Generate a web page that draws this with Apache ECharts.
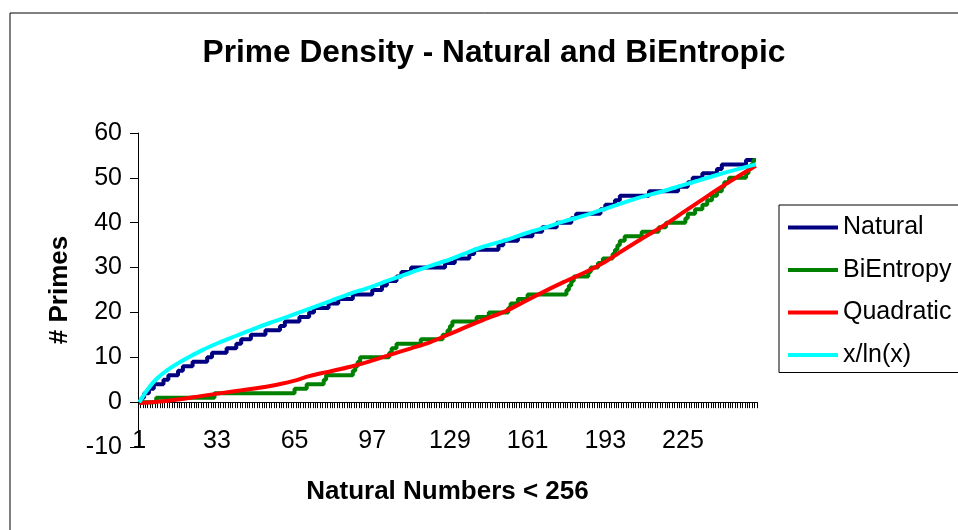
<!DOCTYPE html>
<html>
<head>
<meta charset="utf-8">
<script src="https://cdn.jsdelivr.net/npm/echarts@6/dist/echarts.min.js"></script>
<style>
  html, body { margin: 0; padding: 0; background: #fff; }
  #chart { width: 958px; height: 530px; }
</style>
</head>
<body>
<div id="chart"></div>
<script>
  // natural numbers 1..255 on the category axis
  var categories = Array.from({ length: 255 }, function (_, i) { return String(i + 1); });

  // [n, count] - the count changes at n (step lines)
  var natural = [[1,0],[2,1],[3,2],[5,3],[7,4],[11,5],[13,6],[17,7],[19,8],[23,9],[29,10],[31,11],[37,12],[41,13],[43,14],[47,15],[53,16],[59,17],[61,18],[67,19],[71,20],[73,21],[79,22],[83,23],[89,24],[97,25],[101,26],[103,27],[107,28],[109,29],[113,30],[127,31],[131,32],[137,33],[139,34],[149,35],[151,36],[157,37],[163,38],[167,39],[173,40],[179,41],[181,42],[191,43],[193,44],[197,45],[199,46],[211,47],[223,48],[227,49],[229,50],[233,51],[239,52],[241,53],[251,54],[255,54]];

  var biEntropy = [[1,0],[8,1],[32,2],[65,3],[70,4],[77,5],[78,6],[89,7],[90,8],[91,9],[92,10],[104,11],[105,12],[107,13],[117,14],[126,15],[128,16],[129,17],[130,18],[140,19],[145,20],[153,21],[154,22],[157,23],[161,24],[177,25],[178,26],[179,27],[180,28],[186,29],[187,30],[190,31],[192,32],[196,33],[197,34],[198,35],[199,36],[201,37],[208,38],[215,39],[218,40],[226,41],[227,42],[230,43],[233,44],[235,45],[237,46],[239,47],[241,48],[242,49],[244,50],[251,51],[252,52],[253,53],[254,54],[255,54]];

  // smooth curves
  var quadratic = [[1,-0.2],[13,0.3],[27,1.4],[41,2.5],[55,3.6],[65,4.8],[71,5.8],[80,6.9],[88,7.9],[96,9.1],[104,10.5],[113,12.0],[121,13.4],[129,15.2],[135,16.6],[143,18.4],[152,20.3],[160,22.5],[168,24.7],[176,26.8],[185,29.0],[193,31.3],[199,33.4],[207,36.1],[216,39.0],[224,41.9],[232,44.8],[240,47.7],[248,50.4],[255,52.7]];

  var xOverLnX = [[1,0],[2,0.8],[4,2.5],[8,5.1],[13,7.3],[20,9.6],[27,11.6],[34,13.3],[41,14.8],[48,16.3],[55,17.7],[62,19.0],[71,20.8],[80,22.6],[88,24.2],[96,25.6],[104,27.2],[113,28.9],[121,30.4],[129,31.8],[135,33.1],[143,34.7],[152,36.1],[160,37.6],[168,38.9],[176,40.3],[185,41.7],[193,43.1],[199,44.2],[207,45.6],[216,46.9],[224,48.2],[232,49.5],[240,50.8],[248,52.0],[255,53.0]];

  var yMin = -10, yMax = 60, yStep = 10;

  var font = '"Liberation Sans", Arial, sans-serif';

  function toIndex(arr) {
    return arr.map(function (p) { return [p[0] - 1, p[1]]; });
  }

  var chart = echarts.init(document.getElementById('chart'));
  chart.setOption({
    backgroundColor: '#fff',
    animation: false,
    title: {
      text: 'Prime Density - Natural and BiEntropic',
      left: 489,
      top: 32,
      textAlign: 'center',
      textStyle: { fontFamily: font, fontSize: 31.7, fontWeight: 'bold', color: '#000' }
    },
    graphic: [{
      type: 'rect',
      shape: { x: 10, y: 13, width: 1000, height: 1000 },
      style: { fill: 'none', stroke: '#000', lineWidth: 1 },
      silent: true
    }],
    legend: {
      orient: 'vertical',
      left: 779,
      top: 205,
      padding: [10, 12, 5, 9],
      itemGap: 17.5,
      itemWidth: 50,
      itemHeight: 4,
      icon: 'rect',
      borderColor: '#000',
      borderWidth: 1,
      backgroundColor: '#fff',
      textStyle: { fontFamily: font, fontSize: 25, color: '#000', lineHeight: 25 },
      data: ['Natural', 'BiEntropy', 'Quadratic', 'x/ln(x)']
    },
    grid: { left: 138, right: 201, top: 133, bottom: 83, outerBoundsMode: 'none' },
    xAxis: {
      type: 'category',
      data: categories,
      boundaryGap: true,
      name: 'Natural Numbers < 256',
      nameLocation: 'middle',
      nameGap: 32,
      nameTextStyle: { fontFamily: font, fontSize: 26, fontWeight: 'bold', color: '#000' },
      axisLine: { onZero: true, lineStyle: { color: '#000', width: 1 } },
      axisTick: { show: true, interval: 0, length: 6, lineStyle: { color: '#000' } },
      axisLabel: { interval: 31, margin: -18, fontFamily: font, fontSize: 25, color: '#000' },
      splitLine: { show: false }
    },
    yAxis: {
      type: 'value',
      min: yMin,
      max: yMax,
      interval: yStep,
      name: '# Primes',
      nameLocation: 'middle',
      nameGap: 65,
      nameTextStyle: { fontFamily: font, fontSize: 26, fontWeight: 'bold', color: '#000' },
      axisLine: { show: true, lineStyle: { color: '#000', width: 1 } },
      axisTick: { show: true, length: 8, lineStyle: { color: '#000' } },
      axisLabel: { margin: 16, fontFamily: font, fontSize: 25, color: '#000' },
      splitLine: { show: false }
    },
    series: [
      {
        name: 'Natural', type: 'line', step: 'end', symbol: 'none',
        data: toIndex(natural),
        lineStyle: { color: '#000080', width: 4 }, itemStyle: { color: '#000080' }
      },
      {
        name: 'BiEntropy', type: 'line', step: 'end', symbol: 'none',
        data: toIndex(biEntropy),
        lineStyle: { color: '#008000', width: 4 }, itemStyle: { color: '#008000' }
      },
      {
        name: 'Quadratic', type: 'line', smooth: 0.3, symbol: 'none',
        data: toIndex(quadratic),
        lineStyle: { color: '#ff0000', width: 4 }, itemStyle: { color: '#ff0000' }
      },
      {
        name: 'x/ln(x)', type: 'line', smooth: 0.3, symbol: 'none',
        data: toIndex(xOverLnX),
        lineStyle: { color: '#00ffff', width: 4 }, itemStyle: { color: '#00ffff' }
      }
    ]
  });
</script>
</body>
</html>
